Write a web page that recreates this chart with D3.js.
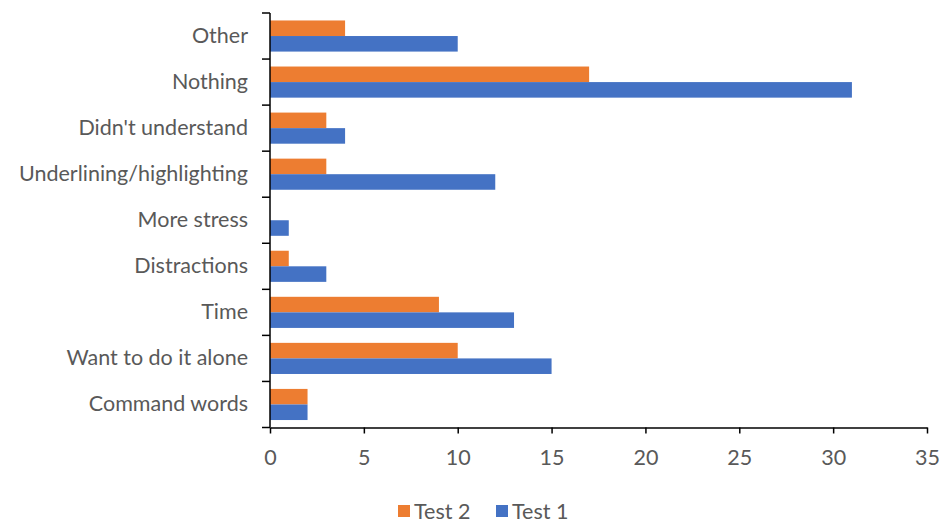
<!DOCTYPE html>
<html>
<head>
<meta charset="utf-8">
<script src="https://cdn.jsdelivr.net/npm/d3@7"></script>
<style>
  html, body { margin: 0; padding: 0; background: #fff; }
  svg { display: block; }
  text { font-family: Lato, "Open Sans", sans-serif; fill: #595959; }
</style>
</head>
<body>
<svg id="chart" width="941" height="522"></svg>
<script>
// Categories listed top to bottom
const categories = [
  "Other", "Nothing", "Didn't understand", "Underlining/highlighting",
  "More stress", "Distractions", "Time", "Want to do it alone", "Command words"
];
const seriesNames = ["Test 2", "Test 1"];
const test2 = [4, 17, 3, 3, 0, 1, 9, 10, 2];
const test1 = [10, 31, 4, 12, 1, 3, 13, 15, 2];
const xTicks = [0, 5, 10, 15, 20, 25, 30, 35];
const colors = { "Test 2": "#ED7D31", "Test 1": "#4472C4" };

const fontSize = 21.5;
const svg = d3.select("#chart");
const plotLeft = 270, plotRight = 927, plotTop = 13, plotBottom = 427.5;

const x = d3.scaleLinear().domain([0, 35]).range([plotLeft, plotRight]);
const y = d3.scaleBand().domain(categories).range([plotTop, plotBottom]).paddingInner(0).paddingOuter(0);
const inner = d3.scaleBand().domain(seriesNames).range([0, y.bandwidth()]).paddingInner(0).paddingOuter(0.48);

const rows = categories.map((c, i) => ({ cat: c, values: { "Test 2": test2[i], "Test 1": test1[i] } }));

const groups = svg.append("g").selectAll("g").data(rows).join("g")
  .attr("transform", d => `translate(0,${y(d.cat)})`);

groups.selectAll("rect").data(d => seriesNames.map(s => ({ s, v: d.values[s] })))
  .join("rect")
  .attr("x", x(0))
  .attr("y", d => inner(d.s))
  .attr("width", d => x(d.v) - x(0))
  .attr("height", inner.bandwidth())
  .attr("fill", d => colors[d.s]);

// Vertical category axis with ticks at band boundaries
const yAxisG = svg.append("g");
yAxisG.append("line")
  .attr("x1", plotLeft).attr("x2", plotLeft).attr("y1", plotTop).attr("y2", plotBottom)
  .attr("stroke", "#000").attr("stroke-width", 1.5);
const bounds = categories.map(c => y(c)).concat([plotBottom]);
yAxisG.selectAll("line.tick").data(bounds).join("line")
  .attr("class", "tick")
  .attr("x1", plotLeft - 8).attr("x2", plotLeft)
  .attr("y1", d => d).attr("y2", d => d)
  .attr("stroke", "#000").attr("stroke-width", 1.5);
yAxisG.selectAll("text").data(categories).join("text")
  .attr("x", 248)
  .attr("y", d => y(d) + y.bandwidth() / 2 + 7)
  .attr("text-anchor", "end")
  .attr("font-size", fontSize)
  .text(d => d);

// Horizontal value axis
const xAxis = d3.axisBottom(x).tickValues(xTicks).tickSizeInner(6).tickSizeOuter(0).tickPadding(16);
const xAxisG = svg.append("g").attr("transform", `translate(0,${plotBottom})`).call(xAxis);
xAxisG.select(".domain").attr("stroke", "#000").attr("stroke-width", 1.5);
xAxisG.selectAll(".tick line").attr("stroke", "#000").attr("stroke-width", 1.5);
xAxisG.selectAll(".tick text")
  .attr("font-size", fontSize)
  .attr("font-family", "Lato, 'Open Sans', sans-serif")
  .attr("fill", "#595959");

// Legend
const legendItems = [{ name: "Test 2", x: 398 }, { name: "Test 1", x: 496 }];
const legend = svg.append("g");
const li = legend.selectAll("g").data(legendItems).join("g")
  .attr("transform", d => `translate(${d.x},505)`);
li.append("rect").attr("width", 12).attr("height", 12).attr("fill", d => colors[d.name]);
li.append("text").attr("x", 16).attr("y", 13.5)
  .attr("font-size", fontSize).text(d => d.name);
</script>
</body>
</html>
